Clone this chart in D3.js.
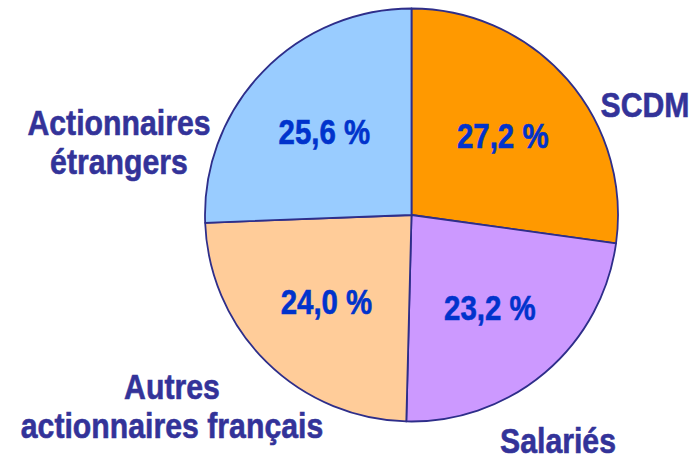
<!DOCTYPE html>
<html>
<head>
<meta charset="utf-8">
<script src="https://cdn.jsdelivr.net/npm/d3@7"></script>
<style>
  html, body { margin: 0; padding: 0; background: #ffffff; }
  svg { display: block; }
</style>
</head>
<body>
<svg id="chart" width="693" height="460"></svg>
<script>
// ---- Data ----
const categories = ["SCDM", "Salariés", "Autres actionnaires français", "Actionnaires étrangers"];
const values = [27.2, 23.2, 24.0, 25.6];
const valueLabels = ["27,2 %", "23,2 %", "24,0 %", "25,6 %"];
const labelLines = [["SCDM"], ["Salariés"], ["Autres", "actionnaires français"], ["Actionnaires", "étrangers"]];
const colors = ["#FF9900", "#CC99FF", "#FFCC99", "#99CCFF"];

// ---- Layout ----
const W = 693, H = 460;
const cx = 411.5, cy = 215, R = 206.5;
const sx = 0.84;
// outer label anchor points (centre x, first baseline y)
const outerAnchors = [[645, 117], [558, 453], [172, 399], [119, 135]];
const lineH = 39;

const svg = d3.select("#chart");
const g = svg.append("g").attr("transform", `translate(${cx},${cy})`);

const pie = d3.pie().sort(null).value(d => d)(values);
const arc = d3.arc().innerRadius(0).outerRadius(R);
const labelArc = d3.arc().innerRadius(121).outerRadius(121);

g.selectAll("path.slice")
  .data(pie)
  .join("path")
  .attr("class", "slice")
  .attr("d", arc)
  .attr("fill", (d, i) => colors[i])
  .attr("stroke", "#2E2E8A")
  .attr("stroke-width", 1.8)
  .attr("stroke-linejoin", "round");

// percent labels
g.selectAll("text.pct")
  .data(pie)
  .join("text")
  .attr("class", "pct")
  .attr("transform", d => {
    const [x, y] = labelArc.centroid(d);
    return `translate(${x},${y}) scale(${sx},1)`;
  })
  .attr("text-anchor", "middle")
  .attr("dy", "0.36em")
  .attr("font-family", "'Liberation Sans', Arial, sans-serif")
  .attr("font-weight", "bold")
  .attr("font-size", 35)
  .attr("fill", "#0033CC")
  .attr("stroke", "#0033CC")
  .attr("stroke-width", 0.6)
  .text((d, i) => valueLabels[i]);

// outer category labels
const outer = svg.selectAll("g.cat")
  .data(categories)
  .join("g")
  .attr("class", "cat")
  .attr("transform", (d, i) => `translate(${outerAnchors[i][0]},${outerAnchors[i][1]}) scale(${sx},1)`);

outer.each(function(d, i) {
  const t = d3.select(this).append("text")
    .attr("text-anchor", "middle")
    .attr("font-family", "'Liberation Sans', Arial, sans-serif")
    .attr("font-weight", "bold")
    .attr("font-size", 36)
    .attr("fill", "#333399")
    .attr("stroke", "#333399")
    .attr("stroke-width", 0.6);
  labelLines[i].forEach((line, j) => {
    t.append("tspan").attr("x", 0).attr("y", j * lineH).text(line);
  });
});
</script>
</body>
</html>
